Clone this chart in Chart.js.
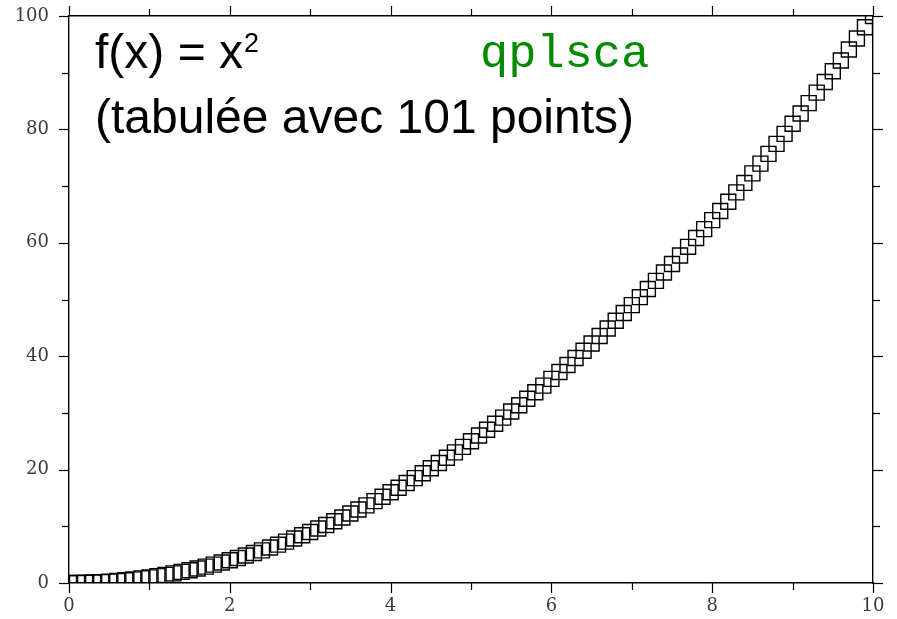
<!DOCTYPE html>
<html>
<head>
<meta charset="utf-8">
<script src="https://cdn.jsdelivr.net/npm/chart.js@4/dist/chart.umd.min.js"></script>
<style>
    html, body {margin: 0; padding: 0; background: #fff;}
    canvas {display: block;}
</style>
</head>
<body>
<canvas id="plot" width="897" height="619"></canvas>
<script>
// x = 0 .. 10, 101 points
const xValues = [
    0, 0.1, 0.2, 0.3, 0.4, 0.5, 0.6, 0.7, 0.8, 0.9,
    1, 1.1, 1.2, 1.3, 1.4, 1.5, 1.6, 1.7, 1.8, 1.9,
    2, 2.1, 2.2, 2.3, 2.4, 2.5, 2.6, 2.7, 2.8, 2.9,
    3, 3.1, 3.2, 3.3, 3.4, 3.5, 3.6, 3.7, 3.8, 3.9,
    4, 4.1, 4.2, 4.3, 4.4, 4.5, 4.6, 4.7, 4.8, 4.9,
    5, 5.1, 5.2, 5.3, 5.4, 5.5, 5.6, 5.7, 5.8, 5.9,
    6, 6.1, 6.2, 6.3, 6.4, 6.5, 6.6, 6.7, 6.8, 6.9,
    7, 7.1, 7.2, 7.3, 7.4, 7.5, 7.6, 7.7, 7.8, 7.9,
    8, 8.1, 8.2, 8.3, 8.4, 8.5, 8.6, 8.7, 8.8, 8.9,
    9, 9.1, 9.2, 9.3, 9.4, 9.5, 9.6, 9.7, 9.8, 9.9,
    10
]
const yValues = [
    0, 0.01, 0.04, 0.09, 0.16, 0.25, 0.36, 0.49, 0.64, 0.81,
    1, 1.21, 1.44, 1.69, 1.96, 2.25, 2.56, 2.89, 3.24, 3.61,
    4, 4.41, 4.84, 5.29, 5.76, 6.25, 6.76, 7.29, 7.84, 8.41,
    9, 9.61, 10.24, 10.89, 11.56, 12.25, 12.96, 13.69, 14.44, 15.21,
    16, 16.81, 17.64, 18.49, 19.36, 20.25, 21.16, 22.09, 23.04, 24.01,
    25, 26.01, 27.04, 28.09, 29.16, 30.25, 31.36, 32.49, 33.64, 34.81,
    36, 37.21, 38.44, 39.69, 40.96, 42.25, 43.56, 44.89, 46.24, 47.61,
    49, 50.41, 51.84, 53.29, 54.76, 56.25, 57.76, 59.29, 60.84, 62.41,
    64, 65.61, 67.24, 68.89, 70.56, 72.25, 73.96, 75.69, 77.44, 79.21,
    81, 82.81, 84.64, 86.49, 88.36, 90.25, 92.16, 94.09, 96.04, 98.01,
    100
]
const xTickLabels = ['0', '2', '4', '6', '8', '10']
const yTickLabels = ['0', '20', '40', '60', '80', '100']
const titleLines = ['f(x) = x', '(tabulée avec 101 points)']
const titleExponent = '2'
const tag = 'qplsca'


const points = xValues.map(function (x, i) {return {x: x, y: yValues[i]}})

const labelFont = {family: 'DejaVu Serif', size: 18}
const labelColor = '#3a3a3a'

// fixed frame sizes so the plot box sits where the original has it
function fixSize(size) {
    return function (scale) {
        if (scale.isHorizontal()) scale.height = size
        else scale.width = size
        scale.paddingTop = 0
        scale.paddingBottom = 0
        scale.paddingLeft = 0
        scale.paddingRight = 0
    }
}

// outward tick marks, long ones on labelled values, short ones between
const tickMarks = {
    id: 'tickMarks',
    afterDraw(chart) {
        const ctx = chart.ctx
        ctx.save()
        ctx.strokeStyle = '#000'
        ctx.lineWidth = 1.2
        Object.values(chart.scales).forEach(function (scale) {
            const labels = scale.axis === 'x' ? xTickLabels : yTickLabels
            scale.ticks.forEach(function (tick) {
                const len = labels.includes(String(tick.value)) ? 10 : 7
                const p = Math.round(scale.getPixelForValue(tick.value)) + 0.5
                ctx.beginPath()
                if (scale.position === 'bottom') {
                    ctx.moveTo(p, scale.top); ctx.lineTo(p, scale.top + len)
                } else if (scale.position === 'top') {
                    ctx.moveTo(p, scale.bottom); ctx.lineTo(p, scale.bottom - len)
                } else if (scale.position === 'left') {
                    ctx.moveTo(scale.right, p); ctx.lineTo(scale.right - len, p)
                } else {
                    ctx.moveTo(scale.left, p); ctx.lineTo(scale.left + len, p)
                }
                ctx.stroke()
            })
        })
        ctx.restore()
    }
}

// text written inside the plot box
const annotations = {
    id: 'annotations',
    afterDraw(chart) {
        const ctx = chart.ctx
        ctx.save()
        ctx.textBaseline = 'alphabetic'
        ctx.textAlign = 'left'
        ctx.fillStyle = '#000'
        ctx.font = '48px "Liberation Sans", Arial, sans-serif'
        ctx.fillText(titleLines[0], 95, 68)
        const w = ctx.measureText(titleLines[0]).width
        ctx.fillText(titleLines[1], 95, 133)
        ctx.font = '27px "Liberation Sans", Arial, sans-serif'
        ctx.fillText(titleExponent, 95 + w + 1, 52)
        ctx.fillStyle = '#008a00'
        ctx.font = '47px "Liberation Mono", "Courier New", monospace'
        ctx.fillText(tag, 480, 67)
        ctx.restore()
    }
}

function axis(position, withLabels, size) {
    const horizontal = position === 'top' || position === 'bottom'
    const labels = horizontal ? xTickLabels : yTickLabels
    return {
        type: 'linear',
        position: position,
        axis: horizontal ? 'x' : 'y',
        min: 0,
        max: horizontal ? 10 : 100,
        grid: {display: false, drawTicks: false, tickLength: 0},
        border: {display: true, color: '#000', width: 1.4},
        ticks: {
            display: withLabels,
            stepSize: horizontal ? 1 : 10,
            autoSkip: false,
            maxRotation: 0,
            padding: horizontal ? 13 : 20,
            font: labelFont,
            color: labelColor,
            callback: function (value) {
                return labels.includes(String(value)) ? String(value) : ''
            },
        },
        afterFit: fixSize(size),
    }
}

const config = {
    type: 'scatter',
    data: {
        datasets: [{
            data: points,
            pointStyle: 'rect',
            pointRadius: 10.6,
            pointBorderWidth: 1.4,
            borderColor: '#000',
            backgroundColor: 'rgba(0,0,0,0)',
            showLine: false,
            clip: 0,
        }]
    },
    options: {
        responsive: false,
        animation: false,
        events: [],
        layout: {padding: 0},
        plugins: {
            legend: {display: false},
            tooltip: {enabled: false},
            title: {display: false},
        },
        scales: {
            x: axis('bottom', true, 36),
            x2: axis('top', false, 16),
            y: axis('left', true, 69),
            y2: axis('right', false, 24),
        },
    },
    plugins: [tickMarks, annotations],
}

const plot = new Chart(document.querySelector('#plot'), config)
</script>
</body>
</html>
